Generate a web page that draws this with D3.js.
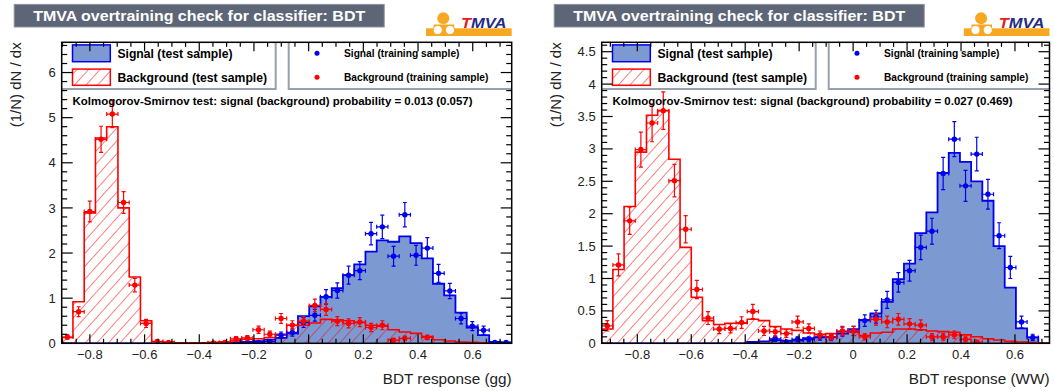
<!DOCTYPE html>
<html>
<head>
<meta charset="utf-8">
<script src="https://cdn.jsdelivr.net/npm/d3@7"></script>
<style>
  body { margin: 0; background: #fff; }
  svg { display: block; font-family: "Liberation Sans", Arial, Helvetica, sans-serif; }
</style>
</head>
<body>
<svg id="chart" width="1054" height="391"></svg>
<script>
// values (40 bins each)
const nBins = 40;
const xTicks = [-0.8, -0.6, -0.4, -0.2, 0, 0.2, 0.4, 0.6];

// gg panel
const ggRange = [-0.903, 0.7425];
const ggYMax = 6.67;
const ggYTicks = [0, 1, 2, 3, 4, 5, 6];
const ggSigTest = [0,0,0,0,0,0,0,0,0,0, 0,0,0,0.01,0.02,0.02,0.03,0.05,0.08,0.12,
  0.22,0.60,0.82,1.03,1.22,1.51,1.75,2.03,2.28,2.25, 2.37,2.22,1.88,1.32,1.06,0.68,0.35,0.18,0.03,0.02];
const ggBkgTest = [0.13,0.92,2.89,4.55,4.80,3.00,1.47,0.50,0.04,0.03, 0.01,0.01,0.01,0.02,0.03,0.06,0.09,0.10,0.13,0.20,
  0.40,0.40,0.45,0.53,0.52,0.50,0.46,0.40,0.38,0.30, 0.25,0.22,0.15,0.08,0.05,0.03,0.02,0.01,0,0];
const ggSigTrain = [0,0,0,0,0,0,0,0,0,0, 0,0,0,0,0,0,0.01,0.02,0.04,0.18,
  0.24,0.46,0.62,1.03,1.17,1.51,1.61,2.43,2.58,1.93, 2.85,1.95,2.11,1.55,1.16,0.55,0.38,0.29,0.02,0.02];
const ggSigTrainErr = [0,0,0,0,0,0,0,0,0,0, 0,0,0,0,0,0,0.015,0.02,0.03,0.07,
  0.08,0.11,0.13,0.16,0.17,0.20,0.20,0.25,0.26,0.22, 0.27,0.22,0.23,0.20,0.17,0.12,0.10,0.09,0.02,0.02];
const ggBkgTrain = [0.14,0.70,2.92,4.52,5.08,3.12,1.29,0.44,0.04,0.02, 0,0,0,0.01,0.02,0.10,0.12,0.30,0.20,0.55,
  0.40,0.49,0.84,0.75,0.49,0.44,0.47,0.35,0.40,0.07, 0.11,0,0.13,0,0,0,0,0,0,0];
const ggBkgTrainErr = [0.05,0.11,0.23,0.29,0.30,0.24,0.15,0.09,0.03,0.02, 0,0,0,0.02,0.02,0.05,0.05,0.08,0.07,0.11,
  0.10,0.10,0.14,0.13,0.10,0.10,0.10,0.09,0.10,0.04, 0.05,0,0.05,0,0,0,0,0,0,0];

// WW panel
const wwRange = [-0.932, 0.728];
const wwYMax = 4.645;
const wwYTicks = [0, 0.5, 1, 1.5, 2, 2.5, 3, 3.5, 4, 4.5];
const wwSigTest = [0,0,0,0,0,0,0,0,0,0, 0,0,0,0.02,0.03,0.05,0.04,0.04,0.08,0.09,
  0.10,0.15,0.22,0.36,0.46,0.64,0.99,1.23,1.70,2.02, 2.63,2.94,2.80,2.50,2.20,1.50,0.86,0.23,0.09,0];
const wwBkgTest = [0.22,1.14,2.11,2.95,3.52,3.59,2.84,1.48,0.71,0.35, 0.29,0.31,0.31,0.37,0.35,0.26,0.22,0.20,0.16,0.14,
  0.15,0.18,0.17,0.12,0.16,0.17,0.22,0.22,0.21,0.19, 0.18,0.17,0.13,0.10,0.07,0.05,0.03,0.02,0.01,0];
const wwSigTrain = [0,0,0,0,0,0,0,0,0,0, 0,0,0,0,0,0.07,0.02,0.06,0.06,0.10,
  0.09,0.18,0.19,0.35,0.41,0.67,0.94,1.12,1.48,1.73, 2.62,3.15,2.43,2.92,2.30,1.66,1.17,0.33,0.09,0];
const wwSigTrainErr = [0,0,0,0,0,0,0,0,0,0, 0,0,0,0,0,0.04,0.02,0.04,0.04,0.05,
  0.05,0.07,0.07,0.09,0.10,0.13,0.15,0.16,0.19,0.20, 0.25,0.27,0.24,0.26,0.23,0.20,0.17,0.09,0.05,0];
const wwBkgTrain = [0.27,1.21,1.89,2.99,3.40,3.59,2.51,1.76,0.83,0.39, 0.22,0.23,0.32,0.49,0.19,0.18,0.15,0.33,0.23,0.13,
  0.10,0.19,0.19,0.10,0.37,0.33,0.37,0.30,0.28,0.10, 0.10,0.13,0.06,0.02,0,0,0,0,0,0];
const wwBkgTrainErr = [0.08,0.17,0.21,0.27,0.29,0.29,0.25,0.21,0.14,0.10, 0.07,0.07,0.09,0.11,0.07,0.07,0.06,0.09,0.07,0.06,
  0.05,0.07,0.07,0.05,0.09,0.09,0.09,0.08,0.08,0.05, 0.05,0.06,0.04,0.02,0,0,0,0,0,0];

const titleText = 'TMVA overtraining check for classifier: BDT';
const ksLabel = 'Kolmogorov-Smirnov test: signal (background) probability = ';

const sigFill = '#7d99d1', sigLine = '#0000ee', bkgLine = '#ff0000';

const svg = d3.select('#chart');
svg.append('rect').attr('width', 1054).attr('height', 391).attr('fill', '#fff');

const defs = svg.append('defs');
defs.append('pattern')
  .attr('id', 'hatch')
  .attr('patternUnits', 'userSpaceOnUse')
  .attr('width', 8.6).attr('height', 8.6)
  .attr('patternTransform', 'rotate(42)')
  .append('line')
  .attr('x1', 0).attr('y1', 0).attr('x2', 0).attr('y2', 8.6)
  .attr('stroke', bkgLine).attr('stroke-width', 1);

function drawPanel(id, p) {
  const top = 42.3, bottom = 343.3;
  const x = d3.scaleLinear().domain(p.range).range([p.x0, p.x1]);
  const y = d3.scaleLinear().domain([0, p.yMax]).range([bottom, top]);
  const edges = d3.range(nBins + 1).map(i => p.range[0] + i * (p.range[1] - p.range[0]) / nBins);

  const g = svg.append('g');

  defs.append('clipPath').attr('id', 'clip-' + id)
    .append('rect').attr('x', p.x0).attr('y', top)
    .attr('width', p.x1 - p.x0).attr('height', bottom - top);

  // title box
  g.append('rect')
    .attr('x', p.x0 - 47.5).attr('y', 4.4).attr('width', 370).attr('height', 22.6)
    .attr('fill', '#5d6676').attr('stroke', '#8a92a0').attr('stroke-width', 1);
  g.append('text')
    .attr('x', p.x0 - 47.5 + 185).attr('y', 20.8)
    .attr('text-anchor', 'middle').attr('fill', '#fff')
    .attr('font-size', 15).attr('font-weight', 'bold')
    .attr('textLength', 332).attr('lengthAdjust', 'spacingAndGlyphs')
    .text(titleText);

  // TMVA logo
  const logo = g.append('g');
  logo.append('rect').attr('x', p.x1 - 85.7).attr('y', 28.3).attr('width', 85.7).attr('height', 7.7).attr('fill', '#f7a823');
  logo.append('rect').attr('x', p.x1 - 78).attr('y', 24.5).attr('width', 20.5).attr('height', 8).attr('fill', '#f7a823');
  logo.append('circle').attr('cx', p.x1 - 68.4).attr('cy', 18.3).attr('r', 6).attr('fill', '#f7a823');
  [p.x1 - 74, p.x1 - 61.7].forEach(cx => {
    logo.append('circle').attr('cx', cx).attr('cy', 30).attr('r', 4.6)
      .attr('fill', '#fff').attr('stroke', '#f7a823').attr('stroke-width', 1);
  });
  const lt = logo.append('text')
    .attr('x', p.x1 - 50.7).attr('y', 28)
    .attr('font-size', 14).attr('font-weight', 'bold').attr('font-style', 'italic')
    .attr('textLength', 45.5).attr('lengthAdjust', 'spacingAndGlyphs');
  lt.append('tspan').attr('fill', '#e3211c').text('T');
  lt.append('tspan').attr('fill', '#232b86').text('MVA');

  // histograms
  const plot = g.append('g').attr('clip-path', `url(#clip-${id})`);
  const histPath = vals => {
    let d = `M${x(edges[0])},${y(0)}`;
    vals.forEach((v, i) => { d += `L${x(edges[i])},${y(v)}L${x(edges[i + 1])},${y(v)}`; });
    return d + `L${x(edges[nBins])},${y(0)}`;
  };
  plot.append('path').attr('d', histPath(p.sigTest) + 'Z').attr('fill', sigFill);
  plot.append('path').attr('d', histPath(p.sigTest)).attr('fill', 'none')
    .attr('stroke', sigLine).attr('stroke-width', 1.8);
  plot.append('path').attr('d', histPath(p.bkgTest) + 'Z').attr('fill', 'url(#hatch)');
  plot.append('path').attr('d', histPath(p.bkgTest)).attr('fill', 'none')
    .attr('stroke', bkgLine).attr('stroke-width', 1.6);

  // training points with error bars
  const drawPoints = (vals, errs, color) => {
    const pg = plot.append('g').attr('stroke', color).attr('fill', color).attr('stroke-width', 1.2);
    vals.forEach((v, i) => {
      if (v <= 0) return;
      const xa = x(edges[i]), xb = x(edges[i + 1]), xc = (xa + xb) / 2;
      const yc = y(v), ya = y(v - errs[i]), yb = y(v + errs[i]);
      pg.append('line').attr('x1', xa).attr('x2', xb).attr('y1', yc).attr('y2', yc);
      pg.append('line').attr('x1', xc).attr('x2', xc).attr('y1', ya).attr('y2', yb);
      [xa, xb].forEach(xx => pg.append('line').attr('x1', xx).attr('x2', xx).attr('y1', yc - 2).attr('y2', yc + 2));
      [ya, yb].forEach(yy => pg.append('line').attr('x1', xc - 2).attr('x2', xc + 2).attr('y1', yy).attr('y2', yy));
      pg.append('circle').attr('cx', xc).attr('cy', yc).attr('r', 2.7).attr('stroke', 'none');
    });
  };
  drawPoints(p.sigTrain, p.sigTrainErr, sigLine);
  drawPoints(p.bkgTrain, p.bkgTrainErr, bkgLine);

  // legend boxes
  const legB = 89;
  g.append('rect').attr('x', p.x0).attr('y', top).attr('width', 214).attr('height', legB - top).attr('fill', '#fff');
  g.append('path').attr('d', `M${p.x0 + 214},${top}V${legB}H${p.x0}`)
    .attr('fill', 'none').attr('stroke', '#97a0b0').attr('stroke-width', 2);
  g.append('rect').attr('x', p.x0 + 227).attr('y', top).attr('width', p.x1 - p.x0 - 227).attr('height', legB - top).attr('fill', '#fff');
  g.append('path').attr('d', `M${p.x0 + 227},${top}V${legB}H${p.x1}`)
    .attr('fill', 'none').attr('stroke', '#97a0b0').attr('stroke-width', 2);

  g.append('rect').attr('x', p.x0 + 10.8).attr('y', 44.9).attr('width', 37.8).attr('height', 16.8)
    .attr('fill', sigFill).attr('stroke', sigLine).attr('stroke-width', 1.5);
  g.append('rect').attr('x', p.x0 + 10.8).attr('y', 69.1).attr('width', 37.8).attr('height', 16.2)
    .attr('fill', 'url(#hatch)').attr('stroke', bkgLine).attr('stroke-width', 1.5);
  [['Signal (test sample)', 57.6], ['Background (test sample)', 81.5]].forEach(([t, yy]) => {
    g.append('text').attr('x', p.x0 + 55.7).attr('y', yy)
      .attr('font-size', 12.2).attr('font-weight', 'bold').attr('fill', '#000').text(t);
  });
  [['Signal (training sample)', 53.3, sigLine], ['Background (training sample)', 77.3, bkgLine]].forEach(([t, yy, c]) => {
    g.append('circle').attr('cx', p.x0 + 255.3).attr('cy', yy).attr('r', 2.5).attr('fill', c);
    g.append('text').attr('x', p.x0 + 282.3).attr('y', yy + 3.6)
      .attr('font-size', 10.2).attr('font-weight', 'bold').attr('fill', '#000').text(t);
  });

  // KS test line
  g.append('text').attr('x', p.x0 + 10.8).attr('y', 104.5)
    .attr('font-size', 11.5).attr('font-weight', 'bold')
    .attr('textLength', 400).attr('lengthAdjust', 'spacingAndGlyphs')
    .text(ksLabel + p.ks);

  // frame and ticks on all four sides
  g.append('rect').attr('x', p.x0).attr('y', top).attr('width', p.x1 - p.x0).attr('height', bottom - top)
    .attr('fill', 'none').attr('stroke', '#000').attr('stroke-width', 1.5);
  const tk = g.append('g').attr('stroke', '#000').attr('stroke-width', 1.2);
  const xMinor = d3.range(-1, 1.0001, 0.05).filter(v => v > p.range[0] && v < p.range[1]);
  xMinor.forEach(v => {
    const major = xTicks.some(t => Math.abs(t - v) < 1e-6);
    const len = major ? 9 : 4.5;
    tk.append('line').attr('x1', x(v)).attr('x2', x(v)).attr('y1', bottom).attr('y2', bottom - len);
    tk.append('line').attr('x1', x(v)).attr('x2', x(v)).attr('y1', top).attr('y2', top + len);
  });
  const yStep = p.yTicks[1] - p.yTicks[0];
  const yMinor = d3.range(0, p.yMax + 1e-6, yStep / 5);
  yMinor.forEach(v => {
    const major = p.yTicks.some(t => Math.abs(t - v) < 1e-6);
    const len = major ? 11 : 5.5;
    tk.append('line').attr('x1', p.x0).attr('x2', p.x0 + len).attr('y1', y(v)).attr('y2', y(v));
    tk.append('line').attr('x1', p.x1).attr('x2', p.x1 - len).attr('y1', y(v)).attr('y2', y(v));
  });

  // tick labels
  const fmt = d3.format('~g');
  xTicks.forEach(v => {
    g.append('text').attr('x', x(v)).attr('y', 359).attr('text-anchor', 'middle')
      .attr('font-size', 13).attr('fill', '#222').text(fmt(v));
  });
  p.yTicks.forEach(v => {
    g.append('text').attr('x', p.x0 - 6).attr('y', y(v) + 4.6).attr('text-anchor', 'end')
      .attr('font-size', 13).attr('fill', '#222').text(fmt(v));
  });

  // axis titles
  g.append('text').attr('x', p.x1).attr('y', 384).attr('text-anchor', 'end')
    .attr('font-size', 15.3).attr('fill', '#222').text(p.xLabel);
  g.append('text').attr('transform', `translate(${p.x0 - 41.2},${top}) rotate(-90)`)
    .attr('text-anchor', 'end').attr('font-size', 15).attr('fill', '#222').text('(1/N) dN / dx');
}

drawPanel('gg', {
  x0: 61.7, x1: 511.7, range: ggRange, yMax: ggYMax, yTicks: ggYTicks,
  sigTest: ggSigTest, bkgTest: ggBkgTest,
  sigTrain: ggSigTrain, sigTrainErr: ggSigTrainErr,
  bkgTrain: ggBkgTrain, bkgTrainErr: ggBkgTrainErr,
  ks: '0.013 (0.057)', xLabel: 'BDT response (gg)'
});
drawPanel('ww', {
  x0: 601.7, x1: 1049.5, range: wwRange, yMax: wwYMax, yTicks: wwYTicks,
  sigTest: wwSigTest, bkgTest: wwBkgTest,
  sigTrain: wwSigTrain, sigTrainErr: wwSigTrainErr,
  bkgTrain: wwBkgTrain, bkgTrainErr: wwBkgTrainErr,
  ks: '0.027 (0.469)', xLabel: 'BDT response (WW)'
});
</script>
</body>
</html>
